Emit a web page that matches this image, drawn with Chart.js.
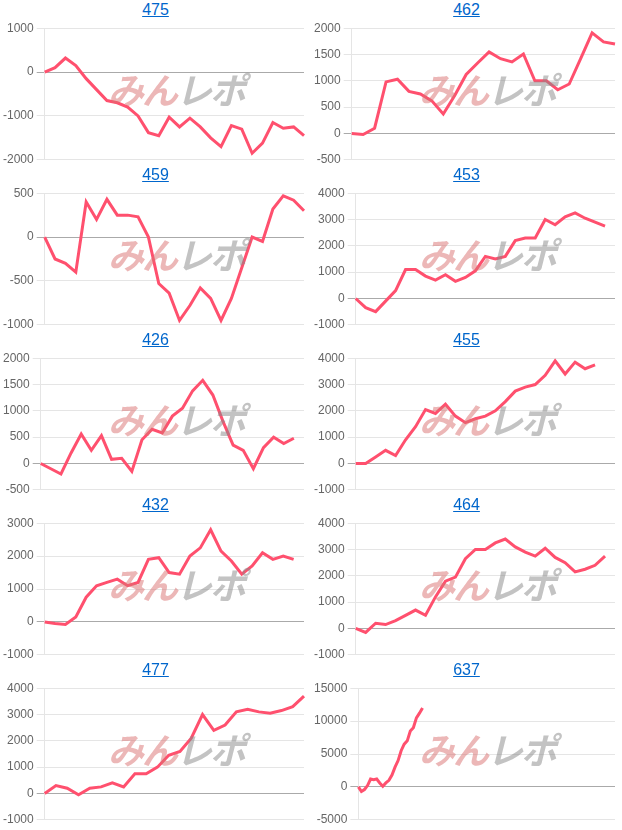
<!DOCTYPE html>
<html><head><meta charset="utf-8">
<script src="https://cdn.jsdelivr.net/npm/chart.js@4"></script>
<style>
body{margin:0;background:#fff;font-family:Arial,"Liberation Sans",sans-serif}
#grid{display:grid;grid-template-columns:311px 311px;width:622px}
.cell{position:relative;height:165px}
.cell.last{height:170px}
.ttl{position:absolute;top:0;left:0;right:0;text-align:center;font-size:16px;color:#0066cc;text-decoration:underline;line-height:20px}
.cv{position:absolute;top:18px;left:0;width:311px;height:152px}
.wm{position:absolute;left:108px;top:62px;font:italic bold 36px "Noto Sans CJK JP";letter-spacing:-2px;opacity:.5;pointer-events:none}
.wm .a{color:#d97070}.wm .b{color:#888}
</style></head><body>
<div id="grid"></div>
<script>
const titles=["475","462","459","453","426","455","432","464","477","637"];
const s475=[0,100,320,150,-150,-400,-650,-700,-800,-1000,-1380,-1450,-1030,-1250,-1050,-1250,-1500,-1700,-1220,-1300,-1850,-1620,-1150,-1280,-1250,-1450];
const s462=[0,-20,100,980,1030,800,750,620,370,720,1120,1340,1550,1420,1360,1510,1000,1000,830,940,1420,1910,1740,1700];
const s459=[0,-250,-300,-400,400,200,430,250,250,230,0,-530,-640,-950,-780,-580,-700,-950,-700,-350,0,-50,320,470,420,300];
const s453=[0,-350,-500,-100,300,1100,1100,850,700,900,650,800,1050,1600,1500,1600,2200,2300,2300,3000,2800,3100,3250,3050,2900,2750,null];
const s426=[0,-100,-200,200,560,250,530,80,100,-150,450,650,580,900,1050,1380,1580,1300,800,350,250,-100,300,500,380,480,null];
const s455=[0,0,250,500,300,900,1400,2050,1900,2250,1800,1550,1700,1800,2000,2350,2750,2900,3000,3350,3900,3400,3850,3600,3750,null,null];
const s432=[0,-50,-80,150,750,1100,1200,1300,1100,1200,1900,1950,1500,1450,2000,2250,2800,2150,1850,1450,1700,2100,1900,2000,1900,null];
const s464=[0,-150,200,150,300,500,700,500,1200,1800,1950,2650,3000,3000,3250,3400,3100,2900,2750,3050,2700,2500,2150,2250,2400,2750,null];
const s477=[0,300,200,-50,200,250,400,250,750,750,1000,1450,1600,2100,3000,2400,2600,3100,3200,3100,3050,3150,3300,3700];
const s637=[0,-700,-400,200,1200,1100,1200,600,100,600,1000,1800,3000,4000,5500,6500,7000,8500,9000,10500,11200,12000].concat(new Array(63).fill(null));
const series=[s475,s462,s459,s453,s426,s455,s432,s464,s477,s637];
const yMin=[-2000,-500,-1000,-1000,-500,-1000,-1000,-1000,-1000,-5000];
const yMax=[1000,2000,500,4000,2000,4000,3000,4000,4000,15000];
const yStep=[1000,500,500,1000,500,1000,1000,1000,1000,5000];
const grid=document.getElementById('grid');
series.forEach((d,i)=>{
  const c=document.createElement('div');c.className='cell'+(i>=8?' last':'');
  c.innerHTML='<div class="ttl">'+titles[i]+'</div><div class="cv"><canvas></canvas></div><div class="wm"><span class="a">みん</span><span class="b">レポ</span></div>';
  grid.appendChild(c);
  new Chart(c.querySelector('canvas'),{type:'line',
    data:{labels:d.map((_,k)=>k),datasets:[{data:d,borderColor:'rgb(255,80,110)',borderWidth:3,pointRadius:0,tension:0,fill:false}]},
    options:{responsive:true,maintainAspectRatio:false,animation:false,
      layout:{padding:{right:7,bottom:0}},
      plugins:{legend:{display:false},tooltip:{enabled:false}},
      scales:{x:{display:false,offset:false},
        y:{min:yMin[i],max:yMax[i],ticks:{stepSize:yStep[i],color:'#666',font:{size:12},callback:v=>String(v)},
           grid:{color:ctx=>ctx.tick&&ctx.tick.value===0?'#aaa':'#e5e5e5'},border:{color:'#e5e5e5'}}}}});
});
</script></body></html>
